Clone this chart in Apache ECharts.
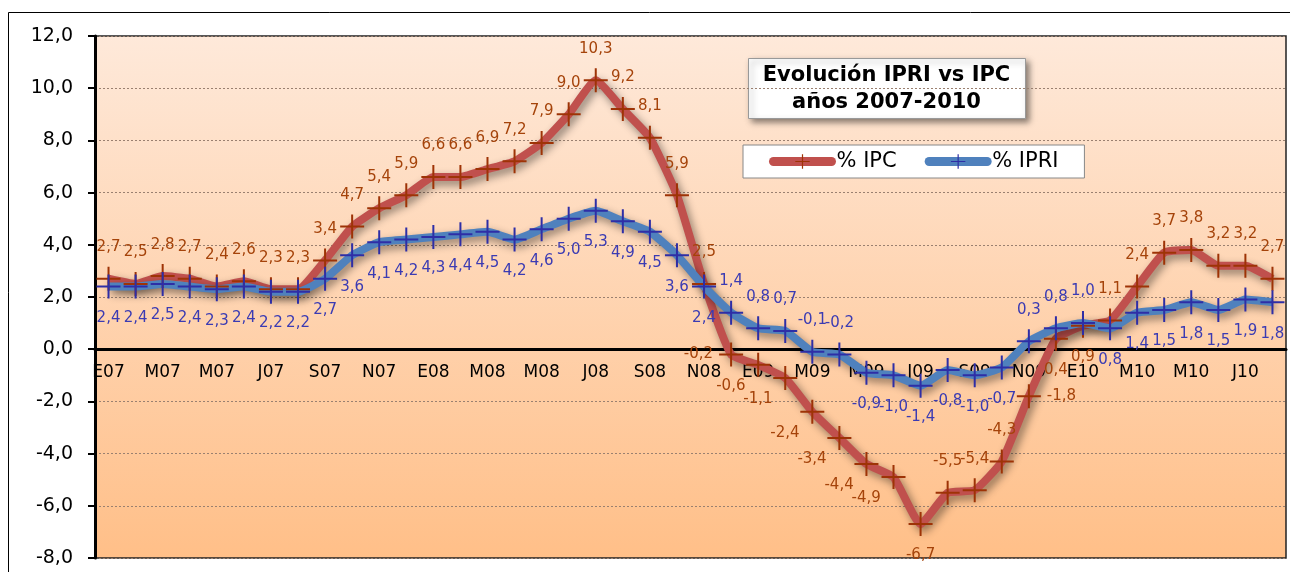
<!DOCTYPE html>
<html>
<head>
<meta charset="utf-8">
<title>Evolución IPRI vs IPC</title>
<script src="https://cdn.jsdelivr.net/npm/echarts@6/dist/echarts.min.js"></script>
<style>
  html, body { margin: 0; padding: 0; background: #fff; }
  #chart { width: 1290px; height: 572px; }
</style>
</head>
<body>
<div id="chart"></div>
<script>
// meses (E F M A M J J A S O N D) de enero 2007 a agosto 2010
const months = ['E', 'F', 'M', 'A', 'M', 'J', 'J', 'A', 'S', 'O', 'N', 'D']
const categories = []
for (const yy of ['07', '08', '09', '10']) {
  for (const m of months) {
    if (categories.length >= 44) break
    categories.push(m + yy)
  }
}

const ipc = [
  2.7, 2.5, 2.8, 2.7, 2.4, 2.6, 2.3, 2.3, 3.4, 4.7, 5.4, 5.9,
  6.6, 6.6, 6.9, 7.2, 7.9, 9.0, 10.3, 9.2, 8.1, 5.9, 2.5, -0.2,
  -0.6, -1.1, -2.4, -3.4, -4.4, -4.9, -6.7, -5.5, -5.4, -4.3, -1.8, 0.4,
  0.9, 1.1, 2.4, 3.7, 3.8, 3.2, 3.2, 2.7
]
const ipri = [
  2.4, 2.4, 2.5, 2.4, 2.3, 2.4, 2.2, 2.2, 2.7, 3.6, 4.1, 4.2,
  4.3, 4.4, 4.5, 4.2, 4.6, 5.0, 5.3, 4.9, 4.5, 3.6, 2.4, 1.4,
  0.8, 0.7, -0.1, -0.2, -0.9, -1.0, -1.4, -0.8, -1.0, -0.7, 0.3, 0.8,
  1.0, 0.8, 1.4, 1.5, 1.8, 1.5, 1.9, 1.8
]
const yTicks = { min: -8, max: 12, step: 2 }

const fmt = v => v.toFixed(1).replace('.', ',')
const FONT = 'DejaVu Sans'

// posición de las etiquetas, como en el original
const ipcPos = i => {
  if (i === 30 || i === 35 || i === 36) return 'bottom'
  if (i === 34) return 'right'
  if (i === 23) return 'left'
  if (i >= 24 && i <= 29) return [-30, 26] // abajo a la izquierda
  return 'top'
}
const ipriPos = i => {
  if ((i >= 23 && i <= 27) || (i >= 34 && i <= 36)) return 'top'
  return 'bottom'
}

const cross = 'path://M0,11h24v2h-24zM11,0h2v24h-2z'

const buildData = (values, posFn, dist) => values.map((v, i) => {
  const p = posFn(i)
  const side = p === 'left' || p === 'right'
  return {
    value: v,
    label: { position: p, distance: side ? 6 : dist }
  }
})

const gridTop = 36
const gridBottom = 14
const plotH = 572 - gridTop - gridBottom
// el eje X se dibuja en el 0, con sus etiquetas
const zeroOffset = -plotH * (0 - yTicks.min) / (yTicks.max - yTicks.min)

const chart = echarts.init(document.getElementById('chart'))

const option = {
  backgroundColor: '#fff',
  animation: false,
  grid: {
    left: 95, right: 4, top: gridTop, bottom: gridBottom,
    show: true,
    borderColor: '#222',
    borderWidth: 1.5,
    backgroundColor: new echarts.graphic.LinearGradient(0, 0, 0, 1, [
      { offset: 0, color: '#fee9da' },
      { offset: 1, color: '#ffbf88' }
    ])
  },
  legend: {
    left: 743, top: 145,
    padding: [6, 26],
    itemGap: 28,
    itemWidth: 58, itemHeight: 18,
    backgroundColor: '#fff',
    borderColor: '#888',
    borderWidth: 1,
    lineStyle: { width: 9, cap: 'round', shadowBlur: 0, shadowColor: 'transparent', shadowOffsetX: 0, shadowOffsetY: 0 },
    textStyle: { fontFamily: FONT, fontSize: 21, color: '#000' },
    data: ['% IPC', '% IPRI']
  },
  graphic: [
    {
      type: 'rect',
      shape: { x: 8.5, y: 12.5, width: 1300, height: 580 },
      style: { fill: 'none', stroke: '#000', lineWidth: 1 },
      silent: true
    },
    {
      type: 'group', left: 748, top: 58, z: 100,
      children: [
        {
          type: 'rect',
          shape: { width: 277, height: 60 },
          style: {
            fill: '#fff', stroke: '#999', lineWidth: 1,
            shadowBlur: 6, shadowOffsetX: 3, shadowOffsetY: 3,
            shadowColor: 'rgba(0,0,0,0.45)'
          }
        },
        {
          type: 'text', x: 138, y: 31,
          style: {
            text: 'Evolución IPRI vs IPC\naños 2007-2010',
            align: 'center', verticalAlign: 'middle',
            font: 'bold 21px "DejaVu Sans"', lineHeight: 27, fill: '#000'
          }
        }
      ]
    }
  ],
  xAxis: {
    type: 'category',
    data: categories,
    position: 'bottom',
    offset: zeroOffset,
    axisLine: { onZero: false, lineStyle: { color: '#000', width: 3 } },
    axisTick: { interval: 0, length: 6, lineStyle: { color: '#000', width: 2 } },
    axisLabel: {
      interval: 1, margin: 15,
      fontFamily: FONT, fontSize: 17, color: '#000'
    },
    splitLine: { show: false }
  },
  yAxis: {
    type: 'value',
    min: yTicks.min, max: yTicks.max, interval: yTicks.step,
    axisLine: { show: true, lineStyle: { color: '#000', width: 3 } },
    axisTick: { show: true, length: 7, lineStyle: { color: '#000', width: 2 } },
    axisLabel: {
      margin: 22, formatter: fmt,
      fontFamily: FONT, fontSize: 19, color: '#000'
    },
    splitLine: { lineStyle: { color: '#9a8070', type: [2, 2], width: 1 } }
  },
  series: [
    {
      name: '% IPC',
      type: 'line',
      smooth: 0.15,
      showAllSymbol: true,
      data: buildData(ipc, ipcPos, 12),
      symbol: cross,
      symbolSize: 24,
      lineStyle: {
        color: '#c0504d', width: 8,
        shadowColor: 'rgba(0,0,0,0.45)', shadowBlur: 8,
        shadowOffsetX: 3, shadowOffsetY: 4
      },
      itemStyle: { color: '#9e3306' },
      labelLayout: { hideOverlap: false },
      label: {
        show: true, formatter: p => fmt(p.value),
        fontFamily: FONT, fontSize: 15, color: '#a5430a'
      }
    },
    {
      name: '% IPRI',
      type: 'line',
      smooth: 0.15,
      showAllSymbol: true,
      data: buildData(ipri, ipriPos, 12),
      symbol: cross,
      symbolSize: 24,
      lineStyle: {
        color: '#4f81bd', width: 8,
        shadowColor: 'rgba(0,0,0,0.45)', shadowBlur: 8,
        shadowOffsetX: 3, shadowOffsetY: 4
      },
      itemStyle: { color: '#2e2ea6' },
      labelLayout: { hideOverlap: false },
      label: {
        show: true, formatter: p => fmt(p.value),
        fontFamily: FONT, fontSize: 15, color: '#3b3bb3'
      }
    }
  ]
}

chart.setOption(option)
window.addEventListener('resize', () => chart.resize())
</script>
</body>
</html>
